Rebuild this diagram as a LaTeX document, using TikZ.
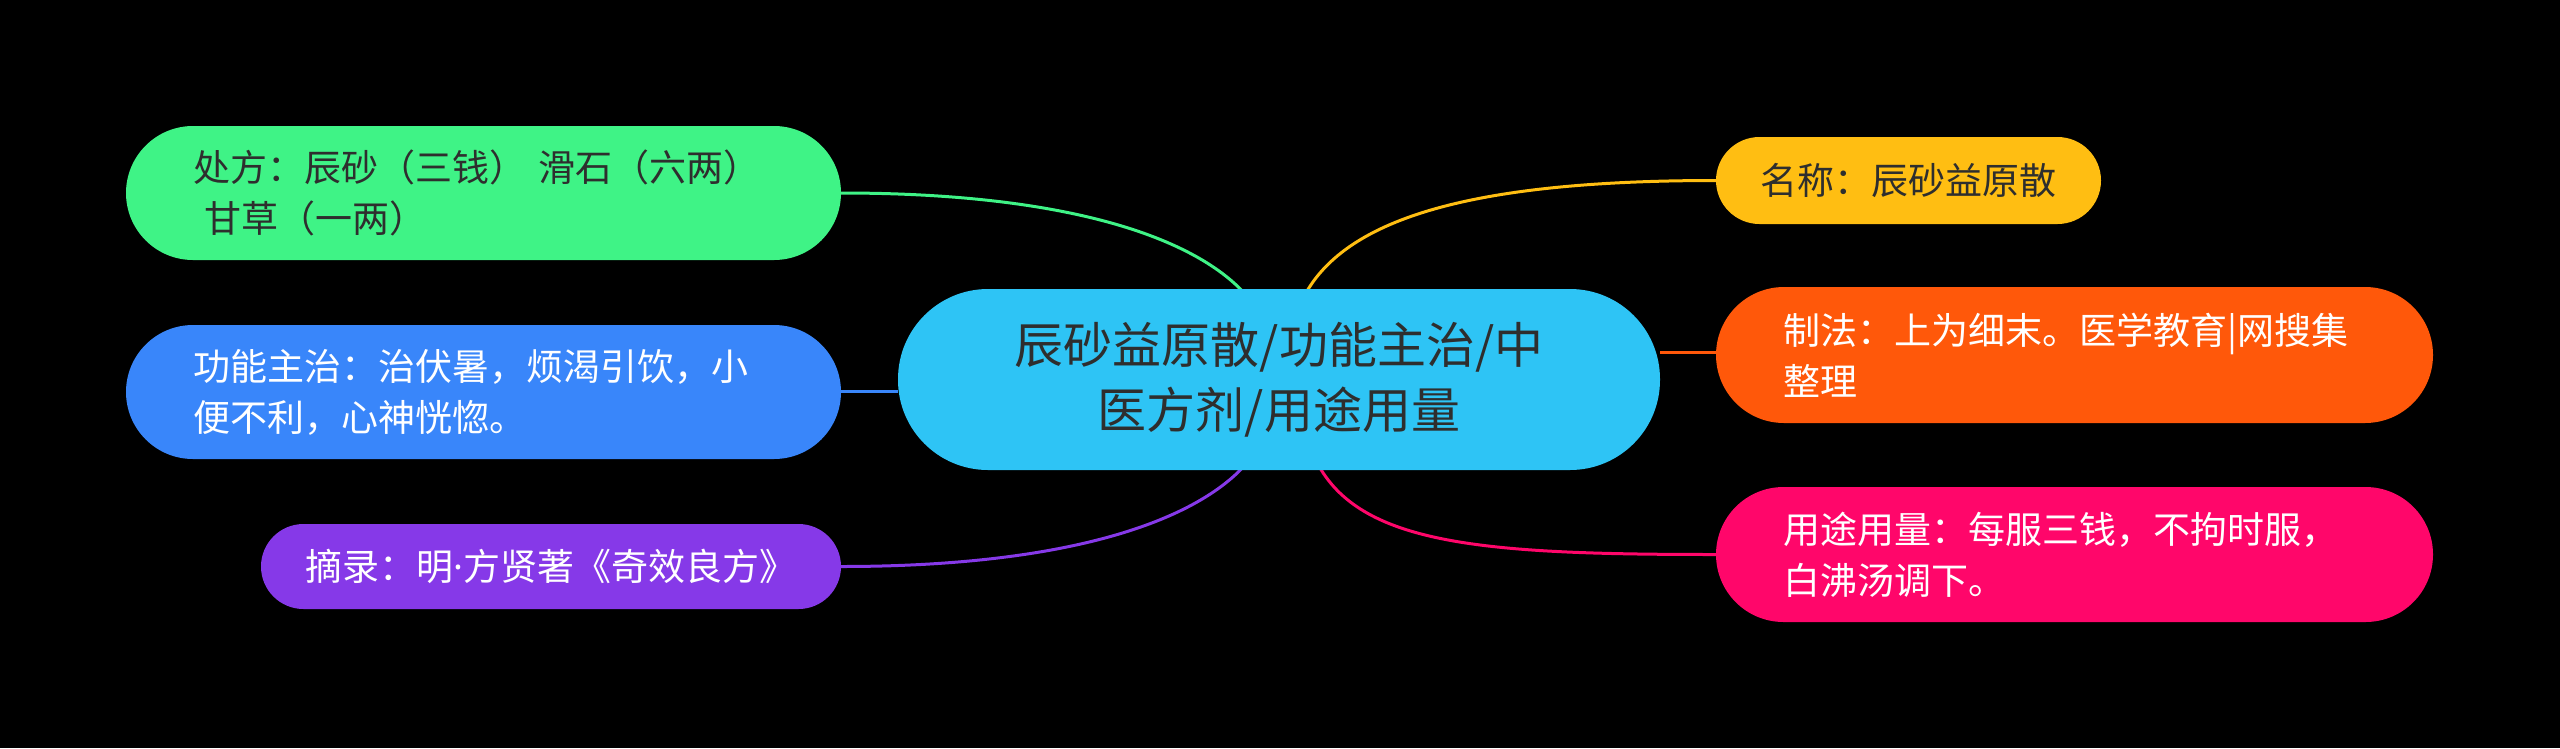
\documentclass[tikz,border=0pt]{standalone}
\usepackage{fontspec}
\setmainfont{Noto Sans CJK SC}
\newfontfamily\dotfont{Noto Sans}
\usetikzlibrary{calc,backgrounds}
\definecolor{bgc}{HTML}{000000}
\definecolor{cyanc}{HTML}{2EC4F5}
\definecolor{greenc}{HTML}{3FF386}
\definecolor{bluec}{HTML}{3986FA}
\definecolor{purplec}{HTML}{8639E8}
\definecolor{yellowc}{HTML}{FFBE12}
\definecolor{orangec}{HTML}{FF580A}
\definecolor{pinkc}{HTML}{FF066A}
\definecolor{darktext}{HTML}{2E2E2E}
\begin{document}
\begin{tikzpicture}[x=1pt,y=1pt,
  pill/.style={inner xsep=0pt, inner ysep=0pt, align=left},
  leaffont/.style={font=\fontsize{37}{51}\selectfont},
  link/.style={line width=3pt}]
\useasboundingbox (0,0) rectangle (2560,-748);

% centre
\node[pill, align=center, fill=cyanc, text=darktext, rounded corners=90pt,
      minimum width=762pt, minimum height=181pt,
      font=\fontsize{49}{65}\selectfont] (c) at (1279,-379.5)
  {辰砂益原散/功能主治/中\\医方剂/用途用量};

% left
\node[pill, leaffont, fill=greenc, text=darktext, rounded corners=67pt,
      minimum width=715pt, minimum height=134pt, text width=581pt] (g) at (483.5,-193)
  {处方：辰砂（三钱） 滑石（六两）\\\hspace*{0.3em}甘草（一两）};
\node[pill, leaffont, fill=bluec, text=white, rounded corners=67pt,
      minimum width=715pt, minimum height=134pt, text width=581pt] (b) at (483.5,-392)
  {功能主治：治伏暑，烦渴引饮，小\\便不利，心神恍惚。};
\node[pill, leaffont, align=center, fill=purplec, text=white, rounded corners=42.5pt,
      minimum width=580pt, minimum height=85pt] (p) at (551,-566.5)
  {摘录：明{\dotfont ·}方贤著《奇效良方》};

% right
\node[pill, leaffont, align=center, fill=yellowc, text=darktext, rounded corners=43.5pt,
      minimum width=385pt, minimum height=87pt] (y) at (1908.5,-180.5)
  {名称：辰砂益原散};
\node[pill, leaffont, fill=orangec, text=white, rounded corners=68pt,
      minimum width=717pt, minimum height=136pt, text width=583pt] (o) at (2074.5,-355)
  {制法：上为细末。医学教育|网搜集\\整理};
\node[pill, leaffont, fill=pinkc, text=white, rounded corners=67.5pt,
      minimum width=717pt, minimum height=135pt, text width=583pt] (k) at (2074.5,-554.5)
  {用途用量：每服三钱，不拘时服，\\白沸汤调下。};

% connectors
\coordinate (cg) at ($(c.north)+(-35,0)$);
\coordinate (cy) at ($(c.north)+(27,0)$);
\coordinate (cp) at ($(c.south)+(-35,0)$);
\coordinate (ck) at ($(c.south)+(40,0)$);
\coordinate (cb) at ($(c.west)+(0,-12)$);
\coordinate (co) at ($(c.east)+(0,27)$);

\begin{scope}[on background layer]
\fill[bgc] (0,0) rectangle (2560,-748);
\draw[link, greenc] (g.east) .. controls ($(g.east)+(230,0)$) and ($(cg)+(-50,50)$) .. ($(cg)+(0,-4)$);
\draw[link, yellowc] ($(cy)+(0,-4)$) .. controls ($(cy)+(45,75)$) and ($(y.west)+(-230,0)$) .. (y.west);
\draw[link, purplec] (p.east) .. controls ($(p.east)+(230,0)$) and ($(cp)+(-50,-50)$) .. ($(cp)+(0,4)$);
\draw[link, pinkc] ($(ck)+(0,4)$) .. controls ($(ck)+(45,-75)$) and ($(k.west)+(-230,0)$) .. (k.west);
\draw[link, bluec] (b.east |- cb) -- (cb);
\draw[link, orangec] (co) -- (o.west |- co);
\end{scope}
\end{tikzpicture}
\end{document}
